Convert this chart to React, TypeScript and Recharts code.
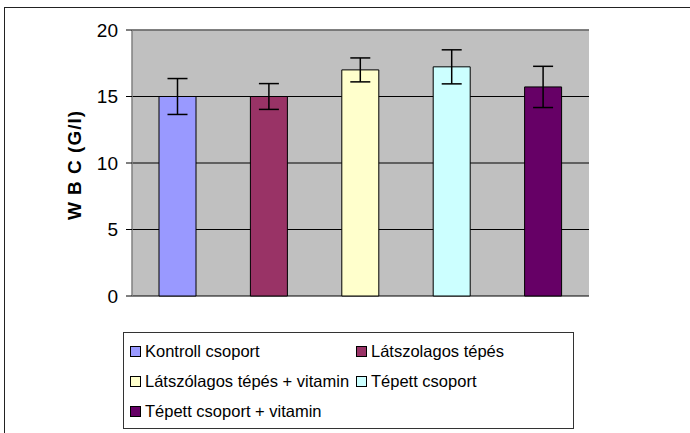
import React from 'react';
import {
  BarChart,
  Bar,
  Cell,
  XAxis,
  YAxis,
  CartesianGrid,
  ErrorBar,
  ReferenceLine,
  Legend,
} from 'recharts';

// csoportok, átlagok és szórások
const groups = [
  'Kontroll csoport',
  'Látszolagos tépés',
  'Látszólagos tépés + vitamin',
  'Tépett csoport',
  'Tépett csoport + vitamin',
];
const wbcValues = [15.0, 15.0, 17.0, 17.23, 15.72];
const wbcErrors = [1.35, 0.97, 0.9, 1.28, 1.55];
const barColors = ['#9999FF', '#993366', '#FFFFCC', '#CCFFFF', '#660066'];
const yTicks = [0, 5, 10, 15, 20];

const data = groups.map((name, i) => ({
  name,
  wbc: wbcValues[i],
  err: wbcErrors[i],
}));

const FONT = "'Liberation Sans', Arial, sans-serif";

const LegendBox = () => (
  <div
    style={{
      boxSizing: 'border-box',
      width: 451,
      height: 97,
      border: '1px solid #333',
      background: '#fff',
      padding: '3px 0 0 6px',
      display: 'grid',
      gridTemplateColumns: '226px 1fr',
      gridAutoRows: '30px',
      fontFamily: FONT,
      fontSize: 16.5,
      color: '#000',
    }}
  >
    {groups.map((g, i) => (
      <div key={g} style={{ display: 'flex', alignItems: 'center', whiteSpace: 'nowrap' }}>
        <span
          style={{
            display: 'inline-block',
            flexShrink: 0,
            width: 9,
            height: 9,
            border: '1px solid #000',
            background: barColors[i],
            marginRight: 4,
          }}
        />
        {g}
      </div>
    ))}
  </div>
);

export default function App() {
  return (
    <div
      style={{
        position: 'absolute',
        left: 0,
        top: 0,
        width: 690,
        height: 433,
        background: '#fff',
        overflow: 'hidden',
      }}
    >
      {/* külső keret (csak a bal és felső éle látszik) */}
      <div
        style={{
          position: 'absolute',
          left: 4,
          top: 7,
          width: 720,
          height: 500,
          border: '1.5px solid #222',
        }}
      />
      <BarChart
        width={690}
        height={433}
        data={data}
        margin={{ top: 30, right: 101, left: 72, bottom: 137 }}
      >
        <CartesianGrid vertical={false} stroke="#000" fill="#C0C0C0" fillOpacity={1} />
        <XAxis
          dataKey="name"
          tick={false}
          tickLine={false}
          height={0}
          axisLine={{ stroke: '#808080', strokeWidth: 1.5 }}
        />
        <YAxis
          domain={[0, 20]}
          ticks={yTicks}
          width={60}
          tickSize={6}
          tickMargin={8}
          tickLine={{ stroke: '#000' }}
          axisLine={{ stroke: '#808080', strokeWidth: 1.5 }}
          tick={{ fill: '#000', fontSize: 19, fontFamily: FONT }}
          label={{
            content: ({ viewBox }: any) => {
              const cx = viewBox.x + 2;
              const cy = viewBox.y + viewBox.height / 2 + 2;
              return (
                <text
                  x={cx}
                  y={cy}
                  transform={`rotate(-90 ${cx} ${cy})`}
                  textAnchor="middle"
                  dominantBaseline="central"
                  fontFamily={FONT}
                  fontWeight="bold"
                  fontSize={19}
                  letterSpacing={1}
                  fill="#000"
                >
                  W B C (G/l)
                </text>
              );
            },
          }}
        />
        <YAxis
          yAxisId="right"
          orientation="right"
          domain={[0, 20]}
          width={0}
          tick={false}
          tickLine={false}
          axisLine={{ stroke: '#808080', strokeWidth: 1.5 }}
        />
        <ReferenceLine y={20} stroke="#808080" strokeWidth={1.5} />
        <Bar dataKey="wbc" barSize={37} stroke="#000" strokeWidth={1} isAnimationActive={false}>
          {data.map((d, i) => (
            <Cell key={d.name} fill={barColors[i]} />
          ))}
          <ErrorBar dataKey="err" width={10} stroke="#000" strokeWidth={1.5} />
        </Bar>
        <Legend
          layout="horizontal"
          verticalAlign="middle"
          align="center"
          content={() => <LegendBox />}
          wrapperStyle={{ left: 123, top: 332, width: 451, height: 97 }}
        />
      </BarChart>
    </div>
  );
}
